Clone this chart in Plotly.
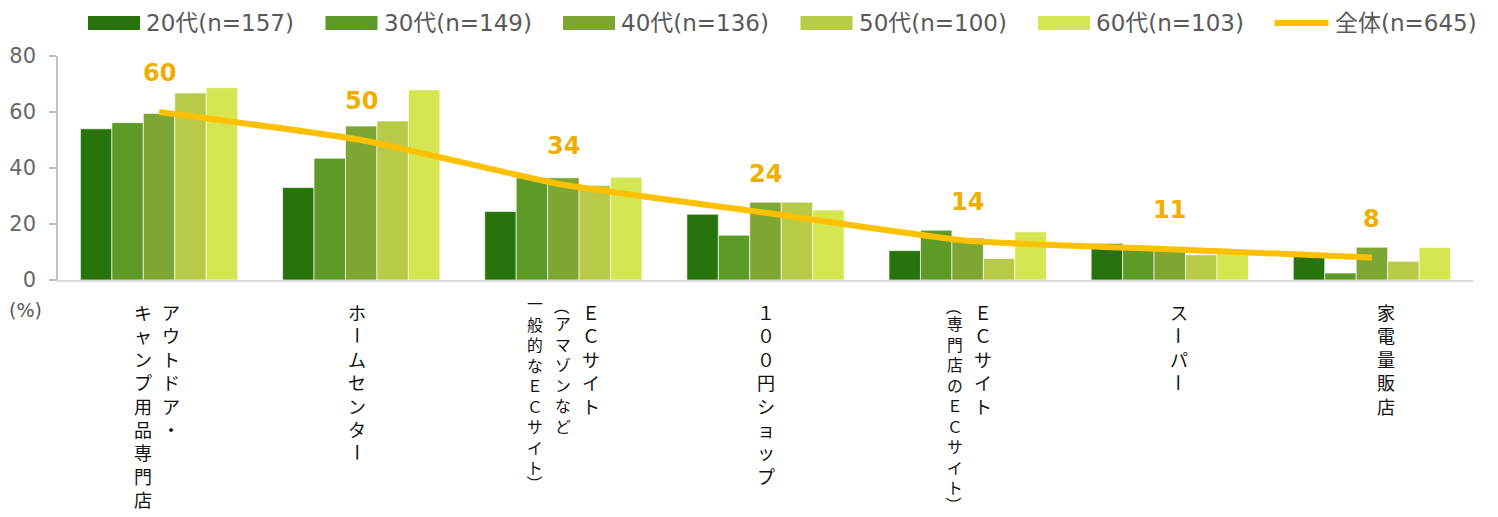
import plotly.graph_objects as go

# ---------------- data ----------------
categories = [
    "アウトドア・\nキャンプ用品専門店",
    "ホームセンター",
    "ＥＣサイト\n（アマゾンなど\n一般的なＥＣサイト）",
    "１００円ショップ",
    "ＥＣサイト\n（専門店のＥＣサイト）",
    "スーパー",
    "家電量販店",
]
series_names = ["20代(n=157)", "30代(n=149)", "40代(n=136)", "50代(n=100)", "60代(n=103)"]
v20 = [54.0, 33.0, 24.5, 23.5, 10.5, 13.0, 8.5]
v30 = [56.2, 43.5, 36.5, 16.0, 17.8, 12.0, 2.5]
v40 = [59.5, 55.0, 36.5, 27.8, 15.0, 11.0, 11.7]
v50 = [66.8, 56.8, 33.8, 27.8, 7.7, 9.0, 6.7]
v60 = [68.7, 67.9, 36.7, 25.0, 17.2, 10.5, 11.6]
series_values = [v20, v30, v40, v50, v60]
total_name = "全体(n=645)"
total_values = [60, 50, 34, 24, 14, 11, 8]
y_ticks = [0, 20, 40, 60, 80]
unit_label = "(%)"

# ---------------- style ----------------
bar_colors = ["#27730C", "#5E9A27", "#7EA632", "#B9C948", "#D4E651"]
line_color = "#FFC000"
value_color = "#F0AE00"
OFF = 8                      # page offset of the figure (body margin)
W, H = 1490, 509
ML, MR, MT, MB = 50, 25, 48, 237
PLOT_BOTTOM_PAGE = MT + (H - MT - MB) + OFF   # page y of the x axis
label_dx = [-2, -4, 0, 0, 1, 9, 14]


def fx(px_page):
    """page x -> pixel offset from paper x=0"""
    return px_page - OFF - ML


def fy(py_page):
    """page y -> pixel offset (upward) from paper y=1"""
    return MT - (py_page - OFF)


x_keys = [c.replace("\n", "") for c in categories]

fig = go.Figure()
for name, vals, col in zip(series_names, series_values, bar_colors):
    fig.add_trace(go.Bar(
        x=x_keys, y=vals, name=name,
        marker=dict(color=col, line=dict(color="rgba(255,255,255,0.65)", width=1)),
        showlegend=False,
    ))
fig.add_trace(go.Scatter(
    x=x_keys, y=total_values, name=total_name, mode="lines",
    line=dict(color=line_color, width=6, shape="spline", smoothing=0.45),
    showlegend=False,
))

annotations = []
shapes = []

# value labels for the total line
for key, v in zip(x_keys, total_values):
    annotations.append(dict(
        x=key, y=v, xref="x", yref="y", text=str(v), showarrow=False,
        yshift=39, xanchor="center", yanchor="middle",
        font=dict(family="DejaVu Sans", size=24, color=value_color, weight="bold"),
    ))

# vertical category labels (columns right-to-left, characters stacked)
rotated = set("ー（）()")
col_gap = 28
for i, (key, label) in enumerate(zip(x_keys, categories)):
    cols = label.split("\n")
    n = len(cols)
    for j, col in enumerate(cols):
        small = ("（" in col) or ("）" in col)
        fs = 15.8 if small else 18
        pitch = fs * 1.3
        first_center = (303 if small else 312) - PLOT_BOTTOM_PAGE
        dx = label_dx[i] + ((n - 1) / 2 - j) * col_gap
        font = dict(family="Noto Sans CJK JP", size=fs, color="#111111")
        runs = []
        cur = []
        for k, ch in enumerate(col):
            if ch in rotated:
                if cur:
                    runs.append(("up", cur))
                    cur = []
                runs.append(("rot", [(k, ch)]))
            else:
                cur.append((k, ch))
        if cur:
            runs.append(("up", cur))
        for kind, items in runs:
            k0, k1 = items[0][0], items[-1][0]
            yc = first_center + (k0 + k1) / 2 * pitch
            if kind == "up":
                annotations.append(dict(
                    x=key, xref="x", y=0, yref="paper",
                    text="<br>".join(ch for _, ch in items), showarrow=False,
                    xanchor="center", yanchor="middle", align="center",
                    xshift=dx, yshift=-yc, font=font,
                ))
            else:
                ch = items[0][1]
                ey = 0
                if ch in "（(":
                    ey = 4
                if ch in "）)":
                    ey = -4
                annotations.append(dict(
                    x=key, xref="x", y=0, yref="paper", text=ch, showarrow=False,
                    xanchor="center", yanchor="middle",
                    xshift=dx, yshift=-(yc + ey), textangle=90, font=font,
                ))

# unit label
annotations.append(dict(
    x=0, xref="paper", y=0, yref="paper", text=unit_label, showarrow=False,
    xshift=25 - (ML + OFF), yshift=-(310 - PLOT_BOTTOM_PAGE),
    xanchor="center", yanchor="middle",
    font=dict(family="DejaVu Sans", size=19, color="#595959"),
))

# legend (swatches sized like the original)
leg_font = dict(family="DejaVu Sans, Noto Sans CJK JP", size=23, color="#595959")
pitch_x = 237.5
start_x = 88
for idx, (name, col) in enumerate(zip(series_names, bar_colors)):
    px0 = start_x + idx * pitch_x
    shapes.append(dict(
        type="rect", xref="paper", xsizemode="pixel", xanchor=0,
        x0=fx(px0), x1=fx(px0 + 52),
        yref="paper", ysizemode="pixel", yanchor=1,
        y0=fy(30), y1=fy(16),
        fillcolor=col, line=dict(width=0),
    ))
    annotations.append(dict(
        x=0, xref="paper", y=1, yref="paper", text=name, showarrow=False,
        xshift=fx(px0 + 56), yshift=fy(23), xanchor="left", yanchor="middle",
        font=leg_font,
    ))
px0 = start_x + len(series_names) * pitch_x - 1
shapes.append(dict(
    type="line", xref="paper", xsizemode="pixel", xanchor=0,
    x0=fx(px0), x1=fx(px0 + 54),
    yref="paper", ysizemode="pixel", yanchor=1,
    y0=fy(23), y1=fy(23),
    line=dict(color=line_color, width=6),
))
annotations.append(dict(
    x=0, xref="paper", y=1, yref="paper", text=total_name, showarrow=False,
    xshift=fx(px0 + 58), yshift=fy(23), xanchor="left", yanchor="middle",
    font=leg_font,
))

fig.update_layout(
    width=W, height=H,
    margin=dict(l=ML, r=MR, t=MT, b=MB, pad=0, autoexpand=False),
    paper_bgcolor="white", plot_bgcolor="white",
    barmode="group", bargap=0.222, bargroupgap=0,
    showlegend=False,
    annotations=annotations, shapes=shapes,
    xaxis=dict(
        type="category", range=[-0.5, len(x_keys) - 0.5], automargin=False,
        showticklabels=False, ticks="", showgrid=False, zeroline=False,
        showline=True, linecolor="#D9D9D9", linewidth=2,
    ),
    yaxis=dict(
        range=[0, 80], tickvals=y_ticks, showgrid=False, zeroline=False,
        automargin=False,
        showline=True, linecolor="#BFBFBF", linewidth=1.5,
        ticks="outside", ticklen=7, tickcolor="#BFBFBF", tickwidth=1.5,
        ticklabelstandoff=9,
        tickfont=dict(family="DejaVu Sans", size=21, color="#666666"),
    ),
)

fig.write_html("out.html", config={"displayModeBar": False})
